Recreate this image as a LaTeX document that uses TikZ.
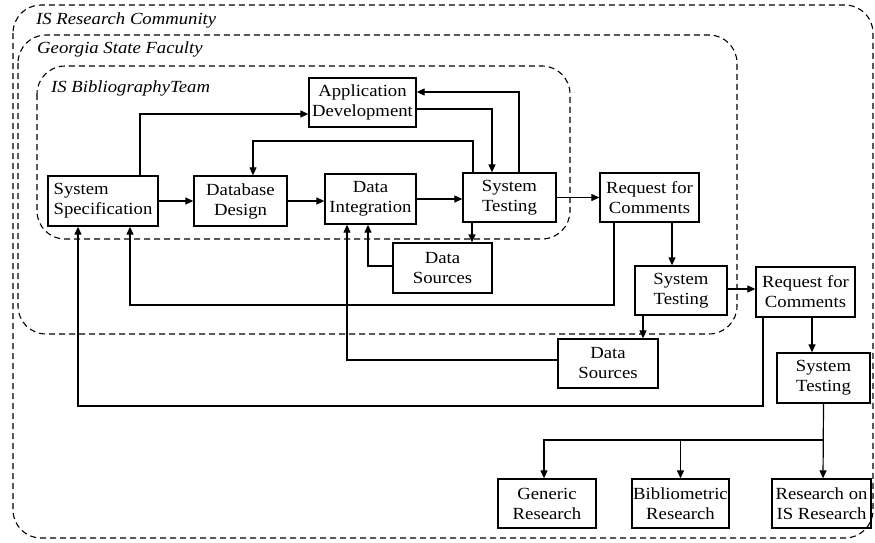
\documentclass[tikz,border=0pt]{standalone}
\usepackage{fontspec}
\setmainfont{Liberation Serif}[FakeStretch=1.1]
\usetikzlibrary{arrows.meta}
\begin{document}
\begin{tikzpicture}[x=1pt,y=-1pt,
  box/.style={draw,line width=1.3pt,inner sep=1pt,align=center,
    font=\fontsize{17}{20}\selectfont},
  arr/.style={line width=1.2pt,-{Triangle[length=8pt,width=7pt]}},
  region/.style={draw,line width=1.1pt,dash pattern=on 6pt off 4pt,rounded corners=28pt},
  rlabel/.style={anchor=west,inner sep=0pt,font=\fontsize{17}{20}\selectfont\itshape}]
\useasboundingbox (0,0) rectangle (875,542);
% regions
\draw[region] (13,5) rectangle (873,538);
\draw[region] (18,35) rectangle (737,334);
\draw[region] (37,66) rectangle (570,239);
\node[rlabel] (l1) at (36,20) {IS Research Community};
\node[rlabel] (l2) at (37,49) {Georgia State Faculty};
\node[rlabel] (l3) at (51,88) {IS BibliographyTeam};
% boxes
\node[box,minimum width=107pt,minimum height=49pt] (appdev) at (362.5,102.5) {Application\\Development};
\node[box,minimum width=110pt,minimum height=50pt,align=left] (sysspec) at (103,201) {System\\Specification};
\node[box,minimum width=93pt,minimum height=50pt] (dbdesign) at (240.5,201) {Database\\Design};
\node[box,minimum width=91pt,minimum height=50pt] (dataint) at (370.5,199) {Data\\Integration};
\node[box,minimum width=93pt,minimum height=49pt] (systest1) at (509.5,197.5) {System\\Testing};
\node[box,minimum width=99pt,minimum height=49pt] (rfc1) at (649.5,197.5) {Request for\\Comments};
\node[box,minimum width=99pt,minimum height=50pt] (datasrc1) at (442.5,268) {Data\\Sources};
\node[box,minimum width=92pt,minimum height=49pt] (systest2) at (681,290.5) {System\\Testing};
\node[box,minimum width=99pt,minimum height=50pt] (rfc2) at (805.5,292) {Request for\\Comments};
\node[box,minimum width=100pt,minimum height=49pt] (datasrc2) at (608,363.5) {Data\\Sources};
\node[box,minimum width=93pt,minimum height=50pt] (systest3) at (823.5,378) {System\\Testing};
\node[box,minimum width=98pt,minimum height=49pt] (generic) at (547,503.5) {Generic\\Research};
\node[box,minimum width=97pt,minimum height=49pt] (biblio) at (680.5,503.5) {Bibliometric\\Research};
\node[box,minimum width=99pt,minimum height=49pt] (isres) at (821.5,503.5) {Research on\\IS Research};
% connectors
\draw[arr] ([xshift=37pt]sysspec.north) |- ([yshift=-11.5pt]appdev.west);
\draw[arr] (sysspec.east) -- (dbdesign.west);
\draw[arr] (dbdesign.east) -- (dbdesign.east -| dataint.west);
\draw[arr] (dataint.east) -- (dataint.east -| systest1.west);
\draw[arr] ([xshift=-36.5pt]systest1.north) |- (253,141) -- ([xshift=12.5pt]dbdesign.north);
\draw[arr] ([yshift=-6.5pt]appdev.east) -| ([xshift=-17.5pt]systest1.north);
\draw[arr] ([xshift=9.5pt]systest1.north) |- ([yshift=10.5pt]appdev.east);
\draw[arr] (systest1.east) -- (rfc1.west);
\draw[arr] ([xshift=-37.5pt]systest1.south) -- ([xshift=-37.5pt]systest1.south |- datasrc1.north);
\draw[arr] ([yshift=2pt]datasrc1.west) -| ([xshift=-2.5pt]dataint.south);
\draw[arr] ([xshift=22.5pt]rfc1.south) -- ([xshift=22.5pt]rfc1.south |- systest2.north);
\draw[arr] ([xshift=-35.5pt]rfc1.south) |- (130,305) -- ([xshift=27pt]sysspec.south);
\draw[arr] ([yshift=1.5pt]systest2.east) -- ([yshift=1.5pt]systest2.east -| rfc2.west);
\draw[arr] ([xshift=-38pt]systest2.south) -- ([xshift=-38pt]systest2.south |- datasrc2.north);
\draw[arr] ([yshift=3.5pt]datasrc2.west) -| ([xshift=-23.5pt]dataint.south);
\draw[arr] ([xshift=-42.5pt]rfc2.south) |- (78,406) -- ([xshift=-25pt]sysspec.south);
\draw[arr] ([xshift=6.5pt]rfc2.south) -- ([xshift=6.5pt]rfc2.south |- systest3.north);
\coordinate (j1) at (823,440);
\draw[arr] (systest3.south) -- ([xshift=1.5pt]isres.north);
\draw[arr] (j1) -| ([xshift=-3pt]generic.north);
\draw[arr] (j1 -| biblio.north) -- (biblio.north);
\end{tikzpicture}
\end{document}
